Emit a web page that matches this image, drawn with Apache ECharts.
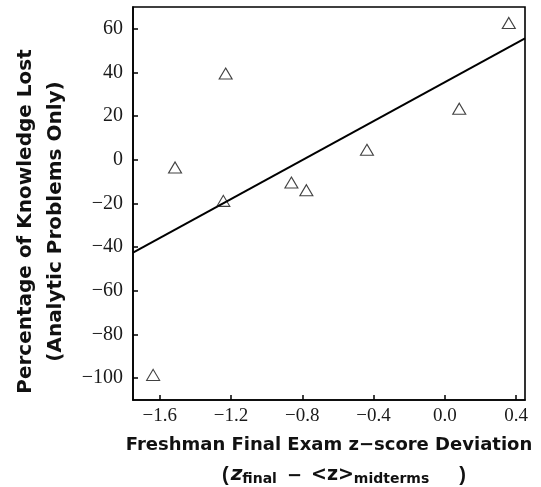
<!DOCTYPE html>
<html>
<head>
<meta charset="utf-8">
<script src="https://cdn.jsdelivr.net/npm/echarts@6/dist/echarts.min.js"></script>
<style>
html,body{margin:0;padding:0;background:#fff;}
#chart{width:541px;height:487px;}
</style>
</head>
<body>
<div id="chart"></div>
<script>
// Data
const xValues = [-1.637, -1.514, -1.243, -1.23, -0.861, -0.777, -0.437, 0.081, 0.359];
const yValues = [-98.5, -3.5, -18.8, 39.5, -10.4, -13.9, 4.6, 23.4, 62.7];
const fitX = [-1.75, 0.45];
const fitY = [-42.5, 55.6];
const xTicks = [-1.6, -1.2, -0.8, -0.4, 0.0, 0.4];
const yTicks = [-100, -80, -60, -40, -20, 0, 20, 40, 60];
const xTitle = 'Freshman Final Exam z\u2212score Deviation';
const yTitle = 'Percentage of Knowledge Lost\n(Analytic Problems Only)';

const scatterData = xValues.map((x, i) => [x, yValues[i]]);
const fitData = fitX.map((x, i) => [x, fitY[i]]);
const minus = s => String(s).replace('-', '\u2212');

const chart = echarts.init(document.getElementById('chart'), null, {renderer: 'canvas'});
chart.setOption({
  animation: false,
  backgroundColor: '#ffffff',
  title: {
    left: 217,
    top: 456,
    text: '{p|(}{z|z}{s|final}{m|\u2212}{b|<z>}{s|midterms}{q|)}',
    textStyle: {
      rich: {
        p: {fontFamily: 'Liberation Sans', fontSize: 20, color: '#111', verticalAlign: 'bottom', lineHeight: 24, padding: [0, 2, 0, 0]},
        z: {fontFamily: 'DejaVu Sans', fontWeight: 'bold', fontStyle: 'italic', fontSize: 20, color: '#111', verticalAlign: 'bottom', lineHeight: 24},
        s: {fontFamily: 'DejaVu Sans', fontWeight: 'bold', fontSize: 14, color: '#111', verticalAlign: 'bottom', lineHeight: 18, padding: [0, 0, -1, 0]},
        m: {fontFamily: 'DejaVu Sans', fontWeight: 'bold', fontSize: 18, color: '#111', verticalAlign: 'bottom', lineHeight: 24, padding: [0, 9, 0, 10]},
        b: {fontFamily: 'DejaVu Sans', fontWeight: 'bold', fontSize: 19, color: '#111', verticalAlign: 'bottom', lineHeight: 24},
        q: {fontFamily: 'Liberation Sans', fontSize: 20, color: '#111', verticalAlign: 'bottom', lineHeight: 24, padding: [0, 0, 0, 30]}
      }
    }
  },
  grid: {
    left: 133, right: 16, top: 7, bottom: 87,
    show: true, borderColor: '#000', borderWidth: 1.6, backgroundColor: 'transparent'
  },
  xAxis: {
    type: 'value',
    min: -1.75, max: 0.45,
    name: xTitle,
    nameLocation: 'middle',
    nameGap: 36,
    nameTextStyle: {fontFamily: 'DejaVu Sans', fontWeight: 'bold', fontSize: 18, color: '#111'},
    axisLine: {show: true, onZero: false, lineStyle: {color: '#000', width: 1.6}},
    axisTick: {show: true, inside: true, length: 5, lineStyle: {color: '#000', width: 1.5}, customValues: xTicks},
    axisLabel: {
      customValues: xTicks,
      fontFamily: 'Liberation Serif', fontSize: 19, color: '#1a1a1a', margin: 7,
      formatter: v => minus(Number(v).toFixed(1))
    },
    splitLine: {show: false}
  },
  yAxis: {
    type: 'value',
    min: -110, max: 70,
    name: yTitle,
    nameLocation: 'middle',
    nameGap: 62,
    nameTextStyle: {fontFamily: 'DejaVu Sans', fontWeight: 'bold', fontSize: 20, color: '#111', lineHeight: 30, align: 'center', padding: [0, 36, 0, 0]},
    axisLine: {show: true, onZero: false, lineStyle: {color: '#000', width: 1.6}},
    axisTick: {show: true, inside: true, length: 5, lineStyle: {color: '#000', width: 1.5}, customValues: yTicks},
    axisLabel: {
      customValues: yTicks,
      fontFamily: 'Liberation Serif', fontSize: 20, color: '#1a1a1a', margin: 10,
      formatter: v => minus(v)
    },
    splitLine: {show: false}
  },
  series: [
    {
      type: 'line',
      data: fitData,
      symbol: 'none',
      lineStyle: {color: '#000', width: 2},
      silent: true,
      z: 2
    },
    {
      type: 'scatter',
      data: scatterData,
      symbol: 'triangle',
      symbolSize: [13, 11],
      itemStyle: {color: 'rgba(255,255,255,0)', borderColor: '#111', borderWidth: 1.1},
      z: 3
    }
  ]
});
</script>
</body>
</html>
